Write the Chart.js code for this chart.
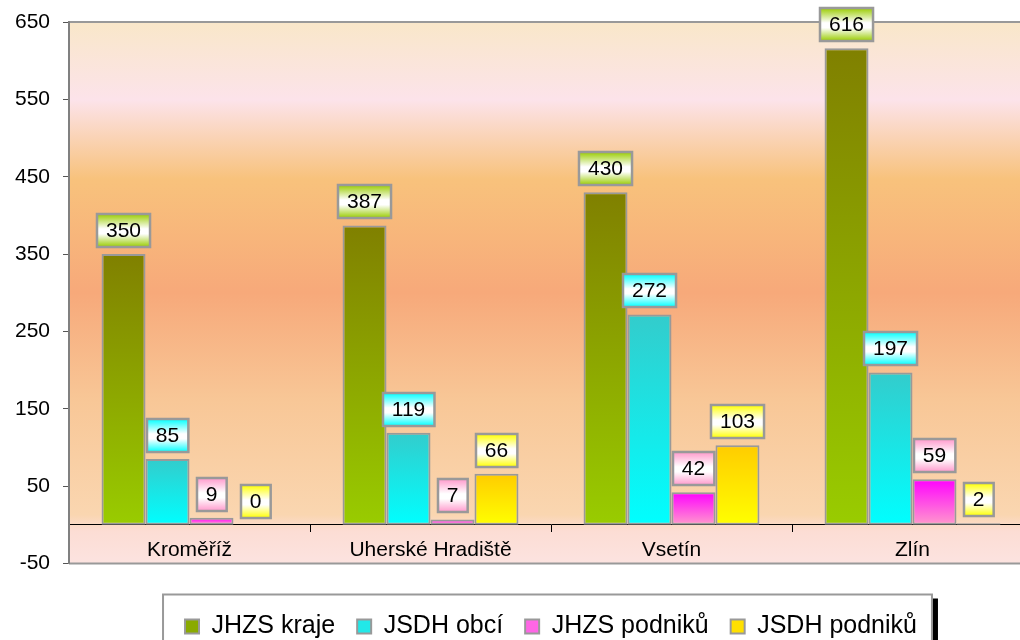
<!DOCTYPE html>
<html>
<head>
<meta charset="utf-8">
<script src="https://cdn.jsdelivr.net/npm/chart.js@4.4.1/dist/chart.umd.min.js"></script>
<style>
    html, body { margin: 0; padding: 0; background: #fff; overflow: hidden; }
    #wrap { width: 1020px; height: 640px; overflow: hidden; }
</style>
</head>
<body>
<div id="wrap"><canvas id="grafica" width="1034" height="660"></canvas></div>
<script>
const kategorie = ['Kroměříž', 'Uherské Hradiště', 'Vsetín', 'Zlín'];
const jhzsKraje = [350, 387, 430, 616];
const jsdhObci = [85, 119, 272, 197];
const jhzsPodniku = [9, 7, 42, 59];
const jsdhPodniku = [0, 66, 103, 2];
const osaMin = -50;
const osaMax = 650;
const osaKrok = 100;

const pismo = '"Liberation Sans", Arial, sans-serif';

// barvy: horni a dolni konec gradientu sloupce, barva stitku, barva legendy
const barvy = [
    { top: '#808000', bottom: '#99CC00', stitek: '#99CC00', legenda: '#8AAA00' },
    { top: '#33CCCC', bottom: '#00FFFF', stitek: '#00FFFF', legenda: '#22E8E8' },
    { top: '#FF00FF', bottom: '#FF99CC', stitek: '#FF99CC', legenda: '#FF66E6' },
    { top: '#FFCC00', bottom: '#FFFF00', stitek: '#FFFF00', legenda: '#FFE000' }
];

function vyplnSloupce(top, bottom) {
    return function (ctx) {
        const chart = ctx.chart;
        if (ctx.type !== 'data' || !chart.chartArea || !chart.scales.y) return bottom;
        const y = chart.scales.y;
        const y0 = y.getPixelForValue(ctx.parsed.y);
        const y1 = y.getPixelForValue(0);
        if (Math.abs(y1 - y0) < 1) return bottom;
        const g = chart.ctx.createLinearGradient(0, y0, 0, y1);
        g.addColorStop(0, top);
        g.addColorStop(1, bottom);
        return g;
    };
}

// pozadi plochy grafu + ramecek legendy
const pozadi = {
    id: 'pozadi',
    beforeDraw(chart) {
        const c = chart.ctx;
        const a = chart.chartArea;
        c.save();
        const g = c.createLinearGradient(0, a.top, 0, a.bottom);
        g.addColorStop(0, '#F9E7C9');
        g.addColorStop(0.144, '#FCE3EA');
        g.addColorStop(0.29, '#F8C27C');
        g.addColorStop(0.5, '#F7A97A');
        g.addColorStop(0.70, '#F8C797');
        g.addColorStop(0.91, '#FAD6B0');
        g.addColorStop(0.94, '#FCDDD4');
        g.addColorStop(1, '#FCE3E0');
        c.fillStyle = g;
        c.fillRect(a.left, a.top, a.right - a.left, a.bottom - a.top);
        c.strokeStyle = '#999';
        c.lineWidth = 2;
        c.beginPath();
        c.moveTo(a.left, a.top);
        c.lineTo(a.right, a.top);
        c.moveTo(a.left, a.bottom);
        c.lineTo(a.right, a.bottom);
        c.stroke();

        const hb = chart.legend && chart.legend.legendHitBoxes;
        if (hb && hb.length) {
            const last = hb[hb.length - 1];
            const l = hb[0].left - 22;
            const r = last.left + last.width + 15;
            const t = hb[0].top - 19.5;
            const b = chart.height + 20;
            c.fillStyle = '#000';
            c.fillRect(r, t + 4, 6, b - t);
            c.fillStyle = '#fff';
            c.fillRect(l, t, r - l, b - t);
            c.strokeStyle = '#999';
            c.lineWidth = 2;
            c.strokeRect(l, t, r - l, b - t);
        }
        c.restore();
    }
};

// stitky s hodnotami nad sloupci
const stitky = {
    id: 'stitky',
    afterDatasetsDraw(chart) {
        const c = chart.ctx;
        c.save();
        c.font = '21px ' + pismo;
        c.textAlign = 'center';
        c.textBaseline = 'middle';
        chart.data.datasets.forEach((ds, i) => {
            const barva = barvy[i].stitek;
            chart.getDatasetMeta(i).data.forEach((bar, j) => {
                const txt = String(ds.data[j]);
                const w = c.measureText(txt).width + 18;
                const h = 33;
                const x = Math.round(bar.x - w / 2);
                const y = Math.round(bar.y - 7 - h);
                const g = c.createLinearGradient(0, y, 0, y + h);
                g.addColorStop(0, barva);
                g.addColorStop(0.45, '#ffffff');
                g.addColorStop(0.6, '#ffffff');
                g.addColorStop(1, barva);
                c.fillStyle = g;
                c.fillRect(x, y, w, h);
                c.strokeStyle = '#999';
                c.lineWidth = 2.5;
                c.strokeRect(x, y, w, h);
                c.fillStyle = '#000';
                c.fillText(txt, bar.x, y + h / 2 + 1);
            });
        });
        c.restore();
    }
};

const nazvy = ['JHZS kraje', 'JSDH obcí', 'JHZS podniků', 'JSDH podniků'];
const rady = [jhzsKraje, jsdhObci, jhzsPodniku, jsdhPodniku];

const ctx = document.getElementById('grafica').getContext('2d');
const graf = new Chart(ctx, {
    type: 'bar',
    data: {
        labels: kategorie,
        datasets: rady.map((data, i) => ({
            label: nazvy[i],
            data: data,
            backgroundColor: vyplnSloupce(barvy[i].top, barvy[i].bottom),
            borderColor: '#999',
            borderWidth: 2,
            borderSkipped: false,
            categoryPercentage: 0.73,
            barPercentage: 1.0
        }))
    },
    options: {
        responsive: false,
        animation: false,
        layout: { padding: { top: 22, left: 0, right: 1, bottom: 11 } },
        scales: {
            x: {
                position: { y: 0 },
                grid: { offset: true, drawOnChartArea: false, drawTicks: true, tickLength: 7, color: '#000' },
                border: { display: true, color: '#000', width: 1 },
                ticks: { color: '#000', font: { size: 21, family: pismo }, padding: 6, maxRotation: 0 }
            },
            y: {
                min: osaMin,
                max: osaMax,
                grid: { drawOnChartArea: false, drawTicks: true, tickLength: 6, color: '#555' },
                border: { display: true, color: '#808080', width: 2 },
                ticks: { stepSize: osaKrok, color: '#000', font: { size: 21, family: pismo }, padding: 13 },
                afterFit(s) {
                    s.width = 69;
                    s.paddingTop = 0;
                    s.paddingBottom = 0;
                }
            }
        },
        plugins: {
            tooltip: { enabled: false },
            legend: {
                position: 'bottom',
                fullSize: false,
                title: { display: true, text: '', font: { size: 10, lineHeight: '28.5px' } },
                labels: {
                    boxWidth: 14,
                    boxHeight: 14,
                    padding: 22,
                    color: '#000',
                    font: { size: 25, family: pismo },
                    generateLabels(chart) {
                        const items = Chart.defaults.plugins.legend.labels.generateLabels(chart);
                        items.forEach((it, i) => {
                            it.fillStyle = barvy[i].legenda;
                            it.strokeStyle = '#999';
                            it.lineWidth = 2;
                        });
                        return items;
                    }
                }
            }
        }
    },
    plugins: [pozadi, stitky]
});
</script>
</body>
</html>
